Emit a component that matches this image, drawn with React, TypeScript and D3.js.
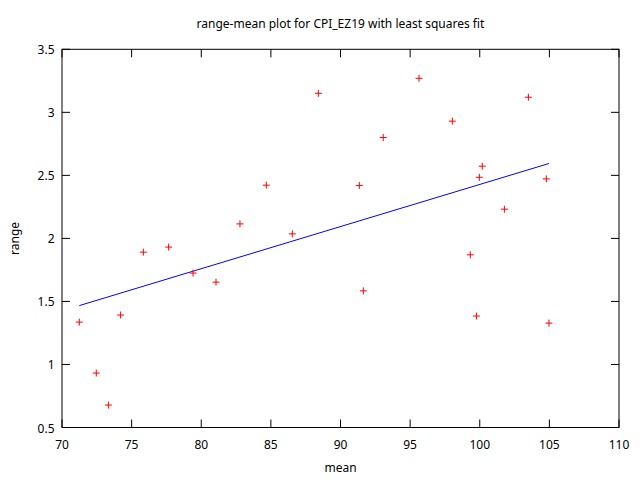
import { useEffect, useRef } from 'react';
import * as d3 from 'd3';

const TITLE = 'range-mean plot for CPI_EZ19 with least squares fit';
const X_LABEL = 'mean';
const Y_LABEL = 'range';

// mean value of each subsample
const MEANS = [
  71.24, 72.46, 73.33, 74.21, 75.84, 77.66, 79.41, 81.06, 82.78, 84.67, 86.54, 88.41, 91.35,
  91.64, 93.07, 95.64, 98.03, 99.32, 99.76, 99.97, 100.18, 101.77, 103.49, 104.78, 104.97,
];
// range of each subsample
const RANGES = [
  1.336, 0.932, 0.678, 1.392, 1.891, 1.931, 1.725, 1.653, 2.115, 2.422, 2.036, 3.151, 2.42,
  1.584, 2.8, 3.27, 2.93, 1.87, 1.384, 2.485, 2.573, 2.232, 3.12, 2.472, 1.328,
];

const X_TICKS = [70, 75, 80, 85, 90, 95, 100, 105, 110];
const Y_TICKS = [0.5, 1, 1.5, 2, 2.5, 3, 3.5];

const FONT = '"Noto Sans", sans-serif';

export default function App() {
  const svgRef = useRef<SVGSVGElement>(null);

  useEffect(() => {
    if (!svgRef.current) return;
    const svg = d3.select(svgRef.current);
    svg.selectAll('*').remove();

    const left = 62;
    const right = 619;
    const top = 49.3;
    const bottom = 427.5;
    const tick = 8;

    const x = d3.scaleLinear().domain([70, 110]).range([left, right]);
    const y = d3.scaleLinear().domain([0.5, 3.5]).range([bottom, top]);

    svg.append('rect').attr('width', 640).attr('height', 480).attr('fill', 'white');

    // ticks (mirrored on all four sides, pointing inward)
    const ticks = svg.append('g').attr('stroke', 'black').attr('stroke-width', 1);
    X_TICKS.forEach((t) => {
      ticks.append('line').attr('x1', x(t)).attr('x2', x(t)).attr('y1', bottom).attr('y2', bottom - tick);
      ticks.append('line').attr('x1', x(t)).attr('x2', x(t)).attr('y1', top).attr('y2', top + tick);
    });
    Y_TICKS.forEach((t) => {
      ticks.append('line').attr('x1', left).attr('x2', left + tick).attr('y1', y(t)).attr('y2', y(t));
      ticks.append('line').attr('x1', right).attr('x2', right - tick).attr('y1', y(t)).attr('y2', y(t));
    });

    const labels = svg.append('g').style('font-family', FONT).style('font-size', '12px').attr('fill', 'black');
    X_TICKS.forEach((t) => {
      labels.append('text').attr('x', x(t)).attr('y', bottom + 21).attr('text-anchor', 'middle').text(t);
    });
    Y_TICKS.forEach((t) => {
      labels.append('text').attr('x', left - 7.5).attr('y', y(t) + 5).attr('text-anchor', 'end').text(t);
    });

    labels.append('text').attr('x', 340.5).attr('y', 472).attr('text-anchor', 'middle').text(X_LABEL);
    labels
      .append('text')
      .attr('transform', `translate(19.3,${(top + bottom) / 2}) rotate(-90)`)
      .attr('text-anchor', 'middle')
      .text(Y_LABEL);
    labels.append('text').attr('x', 340.5).attr('y', 28).attr('text-anchor', 'middle').text(TITLE);

    // least squares fit
    const mx = d3.mean(MEANS)!;
    const my = d3.mean(RANGES)!;
    const sxy = d3.sum(MEANS, (v, i) => (v - mx) * (RANGES[i] - my));
    const sxx = d3.sum(MEANS, (v) => (v - mx) ** 2);
    const slope = sxy / sxx;
    const intercept = my - slope * mx;
    const [x0, x1] = d3.extent(MEANS) as [number, number];
    svg
      .append('line')
      .attr('x1', x(x0))
      .attr('y1', y(intercept + slope * x0))
      .attr('x2', x(x1))
      .attr('y2', y(intercept + slope * x1))
      .attr('stroke', '#0000ff')
      .attr('stroke-width', 1);

    // data points as '+'
    const pts = svg.append('g').attr('stroke', '#ff0000').attr('stroke-width', 1);
    MEANS.forEach((m, i) => {
      const px = x(m);
      const py = y(RANGES[i]);
      pts.append('line').attr('x1', px - 3.5).attr('x2', px + 3.5).attr('y1', py).attr('y2', py);
      pts.append('line').attr('x1', px).attr('x2', px).attr('y1', py - 3.5).attr('y2', py + 3.5);
    });

    svg
      .append('rect')
      .attr('x', left)
      .attr('y', top)
      .attr('width', right - left)
      .attr('height', bottom - top)
      .attr('fill', 'none')
      .attr('stroke', 'black')
      .attr('stroke-width', 1);
  }, []);

  return <svg ref={svgRef} width={640} height={480} style={{ position: 'absolute', left: 0, top: 0 }} />;
}
